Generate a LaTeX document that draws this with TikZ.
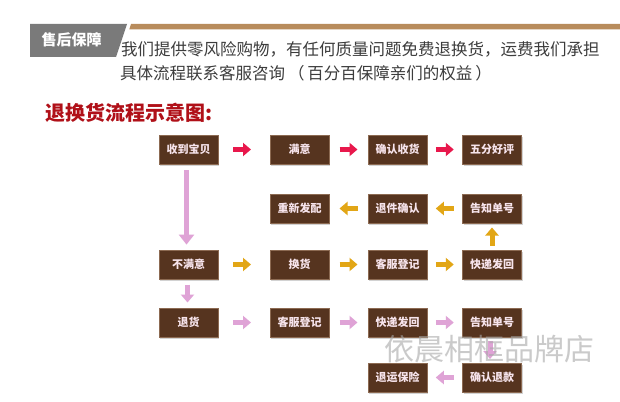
\documentclass[tikz,border=0pt]{standalone}
\usepackage{fontspec}
\setmainfont{Noto Sans CJK SC}
\usetikzlibrary{arrows.meta,calc,shadows}
\definecolor{boxbrown}{HTML}{56341F}
\definecolor{boxedge}{HTML}{8C6A52}
\definecolor{boxtext}{HTML}{F7E4EC}
\definecolor{redarr}{HTML}{E8184C}
\definecolor{goldarr}{HTML}{E2A616}
\definecolor{pinkarr}{HTML}{DFA3D6}
\definecolor{headgray}{HTML}{7A7A7A}
\definecolor{tanbar}{HTML}{B88C5C}
\definecolor{titlered}{HTML}{B01018}
\definecolor{bodytext}{HTML}{3C3C3C}
\definecolor{wmgray}{HTML}{A8A8A8}
\newcommand{\fwopen}{\makebox[1.35em][c]{（}}
\newcommand{\fwclose}{\makebox[1.35em][c]{）}}
\begin{document}
\begin{tikzpicture}[x=1pt,y=-1pt,
  stepbox/.style={draw=boxedge, line width=0.8pt, fill=boxbrown,
    minimum width=59pt, minimum height=29pt, inner sep=0pt, text=boxtext,
    font=\fontsize{11}{12}\selectfont\bfseries,
    drop shadow={shadow xshift=1pt, shadow yshift=-1.5pt, opacity=0.35}},
  flowarr/.style={line width=5pt, -{Triangle[length=8pt,width=13pt]}},
  redA/.style={flowarr, draw=redarr, color=redarr},
  goldA/.style={flowarr, draw=goldarr, color=goldarr},
  pinkA/.style={flowarr, draw=pinkarr, color=pinkarr},
  pinkLong/.style={line width=5pt, draw=pinkarr, color=pinkarr, -{Triangle[length=10pt,width=15pt]}},
  bodyline/.style={anchor=west, inner sep=0pt, text=bodytext, font=\fontsize{16.5}{18}\selectfont}
]
\fill[white] (0,0) rectangle (620,401);
\useasboundingbox (0,0) rectangle (620,401);

% header
\fill[headgray] (30,24) -- (127,24) -- (116,57) -- (30,57) -- cycle;
\node[text=white, inner sep=0pt, font=\fontsize{15}{16}\selectfont\bfseries] (hdr) at (71.5,40) {售后保障};
\fill[tanbar] (131,24) -- (620,24) -- (620,29.5) -- (129.3,29.5) -- cycle;

\node[bodyline] (l1) at (121,49.5) {我们提供零风险购物，有任何质量问题免费退换货，运费我们承担};
\node[bodyline] (l2) at (120,73) {具体流程联系客服咨询\fwopen 百分百保障亲们的权益\fwclose};
\node[anchor=west, inner sep=0pt, text=titlered, font=\fontsize{20}{22}\selectfont\bfseries] (title) at (45,113) {退换货流程示意图:};

% boxes
\node[stepbox] (r1c1) at (188.5,149.5) {收到宝贝};
\node[stepbox] (r1c2) at (299.5,149.5) {满意};
\node[stepbox] (r1c3) at (397.5,149.5) {确认收货};
\node[stepbox] (r1c4) at (492,149.5) {五分好评};

\node[stepbox] (r2c2) at (299.5,208.5) {重新发配};
\node[stepbox] (r2c3) at (397.5,208.5) {退件确认};
\node[stepbox] (r2c4) at (492,208.5) {告知单号};

\node[stepbox] (r3c1) at (188.5,264.5) {不满意};
\node[stepbox] (r3c2) at (299.5,264.5) {换货};
\node[stepbox] (r3c3) at (397.5,264.5) {客服登记};
\node[stepbox] (r3c4) at (492,264.5) {快递发回};

\node[stepbox] (r4c1) at (188.5,322.5) {退货};
\node[stepbox] (r4c2) at (299.5,322.5) {客服登记};
\node[stepbox] (r4c3) at (397.5,322.5) {快递发回};
\node[stepbox] (r4c4) at (492,322.5) {告知单号};

\node[stepbox] (r5c3) at (397.5,377.5) {退运保险};
\node[stepbox] (r5c4) at (492,377.5) {确认退款};

% red arrows
\draw[redA] ($(r1c1.east)!.5!(r1c2.west)+(-11,0)$) -- ++(18,0);
\draw[redA] ($(r1c2.east)!.5!(r1c3.west)+(-9,0)$) -- ++(18,0);
\draw[redA] ($(r1c3.east)!.5!(r1c4.west)+(-9,0)$) -- ++(18,0);

% gold arrows
\draw[goldA] ($(r2c4.west)!.5!(r2c3.east)+(9,0)$) -- ++(-18,0);
\draw[goldA] ($(r2c3.west)!.5!(r2c2.east)+(9,0)$) -- ++(-18,0);
\draw[goldA] ($(r3c4.north)!.5!(r2c4.south)+(0,9)$) -- ++(0,-18);
\draw[goldA] ($(r3c1.east)!.5!(r3c2.west)+(-11,0)$) -- ++(18,0);
\draw[goldA] ($(r3c2.east)!.5!(r3c3.west)+(-9,0)$) -- ++(18,0);
\draw[goldA] ($(r3c3.east)!.5!(r3c4.west)+(-9,0)$) -- ++(18,0);

% pink arrows
\draw[pinkLong] ($(r1c1.south)+(-2,6)$) -- ($(r3c1.north)+(-2,-5)$);
\draw[pinkA] ($(r3c1.south)!.5!(r4c1.north)+(-1,-9)$) -- ++(0,18);
\draw[pinkA] ($(r4c1.east)!.5!(r4c2.west)+(-11,0)$) -- ++(18,0);
\draw[pinkA] ($(r4c2.east)!.5!(r4c3.west)+(-9,0)$) -- ++(18,0);
\draw[pinkA] ($(r4c3.east)!.5!(r4c4.west)+(-9,0)$) -- ++(18,0);
\draw[pinkA] ($(r4c4.south)!.5!(r5c4.north)+(-2,-9)$) -- ++(0,18);
\draw[pinkA] ($(r5c4.west)!.5!(r5c3.east)+(9,0)$) -- ++(-18,0);

% watermark
\node[anchor=west, inner sep=0pt, text=wmgray, opacity=0.6, font=\fontsize{30}{32}\selectfont] (wm) at (384,349) {依晨相框品牌店};
\end{tikzpicture}
\end{document}
